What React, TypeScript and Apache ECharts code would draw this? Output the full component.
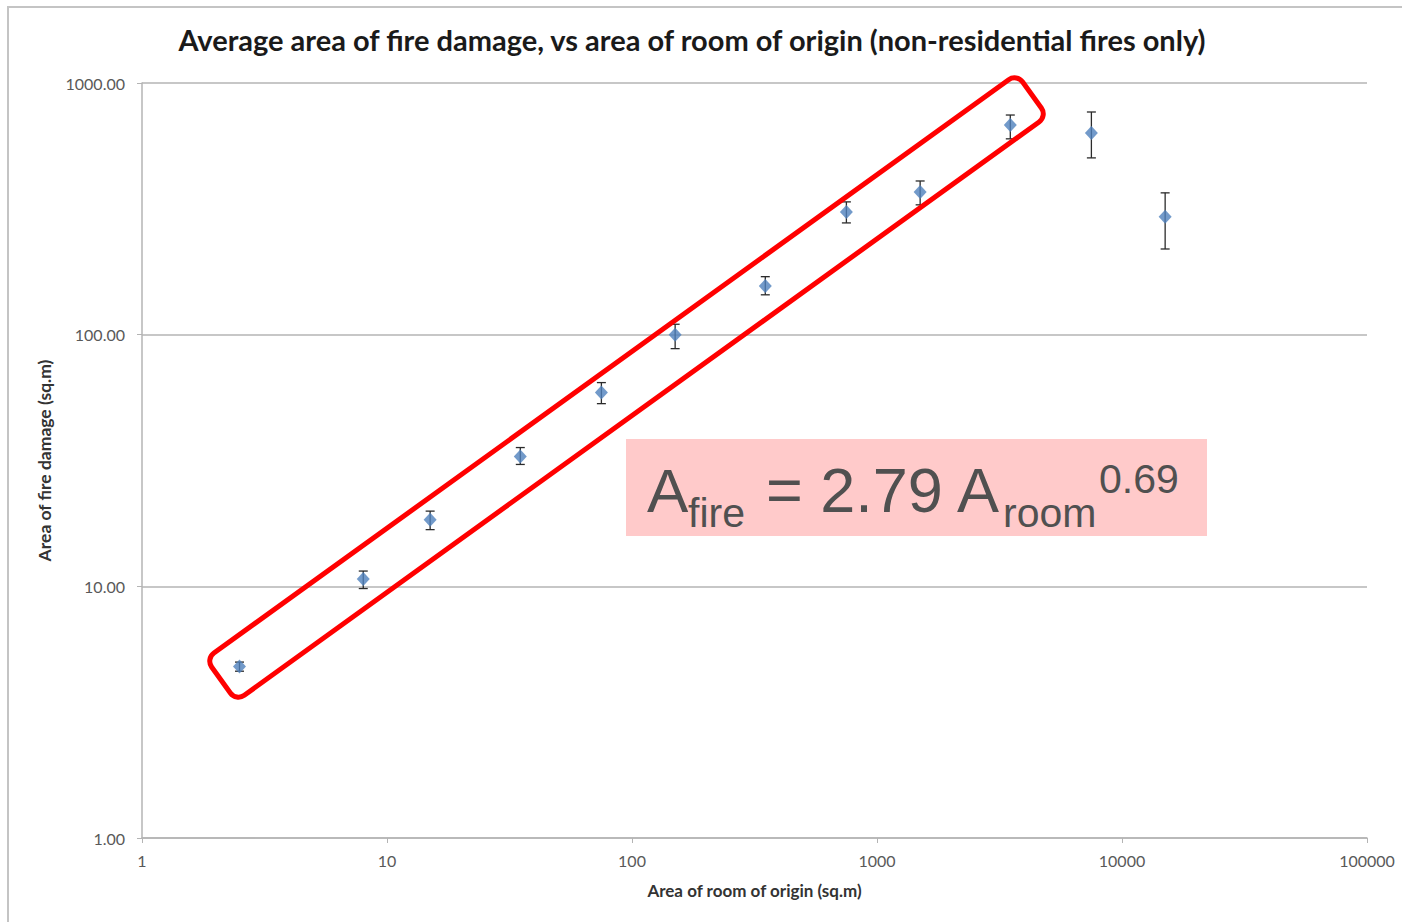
import React, { useEffect, useRef } from "react";
import * as echarts from "echarts";

const roomArea = [2.5, 8, 15, 35, 75, 150, 350, 750, 1500, 3500, 7500, 15000];
const fireArea = [4.8, 10.7, 18.4, 32.8, 58.9, 100, 156, 307, 369, 681, 633, 294];
const fireHigh = [5.0, 11.5, 19.9, 35.6, 64.5, 110, 170, 337, 408, 746, 767, 366];
const fireLow = [4.6, 9.8, 16.8, 30.5, 53.2, 88, 144, 278, 328, 600, 504, 219];

const titleText = "Average area of fire damage, vs area of room of origin (non-residential fires only)";
const xName = "Area of room of origin (sq.m)";
const yName = "Area of fire damage (sq.m)";

export default function App() {
  const ref = useRef<HTMLDivElement>(null);
  useEffect(() => {
    if (!ref.current) return;
    const chart = echarts.init(ref.current, null, { renderer: "svg" });
    const points = roomArea.map((x, i) => [x, fireArea[i]]);
    const bars = roomArea.map((x, i) => [x, fireLow[i], fireHigh[i]]);
    const labelFont = "Lato";
    const eqColor = "#505050";
    chart.setOption({
      animation: false,
      backgroundColor: "#ffffff",
      title: {
        text: titleText,
        left: 687,
        textAlign: "center",
        top: 20,
        textStyle: { fontFamily: labelFont, fontWeight: "bold", fontSize: 29, color: "#1a1a1a" },
      },
      grid: { left: 142, right: 35, top: 83, bottom: 84 },
      xAxis: {
        type: "log",
        logBase: 10,
        min: 1,
        max: 100000,
        name: xName,
        nameLocation: "middle",
        nameGap: 44,
        nameTextStyle: { fontFamily: labelFont, fontWeight: "bold", fontSize: 17, color: "#333" },
        axisLine: { show: true, lineStyle: { color: "#b4b4b4", width: 1.5 } },
        axisTick: { show: true, length: 5, lineStyle: { color: "#b4b4b4" } },
        minorTick: { show: false },
        splitLine: { show: false },
        axisLabel: {
          fontFamily: labelFont,
          fontSize: 16,
          color: "#595959",
          margin: 14,
          formatter: (v: number) => String(Math.round(v)),
        },
      },
      yAxis: {
        type: "log",
        logBase: 10,
        min: 1,
        max: 1000,
        name: yName,
        nameLocation: "middle",
        nameGap: 89,
        nameTextStyle: { fontFamily: labelFont, fontWeight: "bold", fontSize: 17.5, color: "#333" },
        axisLine: { show: true, lineStyle: { color: "#b4b4b4", width: 1.5 } },
        axisTick: { show: true, length: 5, lineStyle: { color: "#b4b4b4" } },
        minorTick: { show: false },
        splitLine: { show: true, lineStyle: { color: "#b4b4b4", width: 1.5 } },
        axisLabel: {
          fontFamily: labelFont,
          fontSize: 16,
          color: "#595959",
          margin: 17,
          formatter: (v: number) => v.toFixed(2),
        },
      },
      series: [
        {
          type: "custom",
          z: 2,
          data: bars,
          encode: { x: 0, y: [1, 2] },
          renderItem: (params: any, api: any) => {
            const x = api.value(0);
            const lo = api.coord([x, api.value(1)]);
            const hi = api.coord([x, api.value(2)]);
            const w = 4.5;
            const st = { stroke: "#2b2b2b", lineWidth: 1.3 };
            return {
              type: "group",
              children: [
                { type: "line", shape: { x1: lo[0], y1: lo[1], x2: hi[0], y2: hi[1] }, style: st },
                { type: "line", shape: { x1: lo[0] - w, y1: lo[1], x2: lo[0] + w, y2: lo[1] }, style: st },
                { type: "line", shape: { x1: hi[0] - w, y1: hi[1], x2: hi[0] + w, y2: hi[1] }, style: st },
              ],
            };
          },
        },
        {
          type: "scatter",
          z: 3,
          symbol: "diamond",
          symbolSize: [13, 14],
          itemStyle: { color: "#4f81bd" },
          data: points,
        },
      ],
      graphic: [
        {
          type: "rect",
          z: 0,
          silent: true,
          shape: { x: 8, y: 7, width: 1420, height: 940 },
          style: { fill: "none", stroke: "#c4c4c4", lineWidth: 2 },
        },
        {
          type: "rect",
          z: 100,
          silent: true,
          x: 626.5,
          y: 387.5,
          rotation: (35.8 * Math.PI) / 180,
          shape: { x: -500, y: -26, width: 1000, height: 52, r: 10 },
          style: { fill: "none", stroke: "#ff0000", lineWidth: 5 },
        },
        {
          type: "rect",
          z: 100,
          silent: true,
          shape: { x: 626, y: 439, width: 581, height: 97 },
          style: { fill: "#ffcaca" },
        },
        {
          type: "text",
          z: 101,
          x: 647,
          y: 490,
          style: { text: "A", fontFamily: "Liberation Sans", fontSize: 62, fill: eqColor, verticalAlign: "middle", align: "left" },
        },
        {
          type: "text",
          z: 101,
          x: 688,
          y: 513,
          style: { text: "fire", fontFamily: "Liberation Sans", fontSize: 41, fill: eqColor, verticalAlign: "middle", align: "left" },
        },
        {
          type: "text",
          z: 101,
          x: 766,
          y: 490,
          style: { text: "= 2.79 A", fontFamily: "Liberation Sans", fontSize: 63, fill: eqColor, verticalAlign: "middle", align: "left" },
        },
        {
          type: "text",
          z: 101,
          x: 1003,
          y: 513,
          style: { text: "room", fontFamily: "Liberation Sans", fontSize: 41, fill: eqColor, verticalAlign: "middle", align: "left" },
        },
        {
          type: "text",
          z: 101,
          x: 1099,
          y: 479,
          style: { text: "0.69", fontFamily: "Liberation Sans", fontSize: 41, fill: eqColor, verticalAlign: "middle", align: "left" },
        },
      ],
    });
    return () => chart.dispose();
  }, []);
  return (
    <div
      ref={ref}
      style={{ position: "fixed", left: 0, top: 0, width: 1402, height: 922 }}
    />
  );
}
